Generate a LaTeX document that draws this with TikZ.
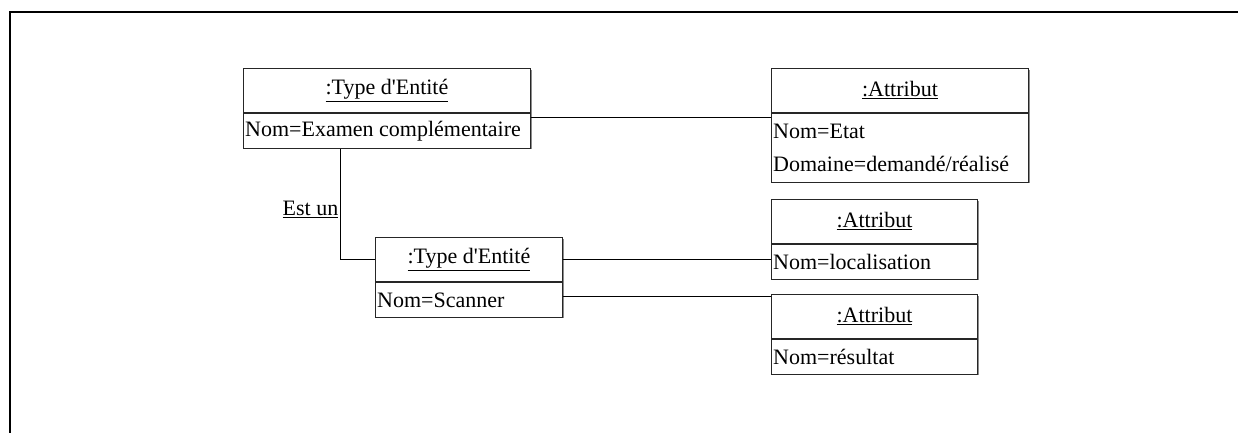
\documentclass[tikz,border=0pt]{standalone}
\usepackage{fontspec}
\setmainfont{Liberation Serif}[Ligatures=TeXOff]
\usetikzlibrary{calc,shadows}
\begin{document}
\begin{tikzpicture}[x=1pt,y=-1pt,
  part/.style={draw=black!85, fill=white, line width=0.9pt, rectangle, inner sep=0pt,
    anchor=north west, font=\fontsize{22}{24}\selectfont,
    general shadow={fill=black!45, shadow xshift=1.1pt, shadow yshift=-1.1pt}},
  row/.style={font=\fontsize{22}{24}\selectfont, anchor=west, inner sep=0pt},
  link/.style={draw=black, line width=0.9pt}]
\useasboundingbox (0,0) rectangle (1238,432);
% page frame
\draw[line width=2.2pt] (10,433) -- (10,12) -- (1239,12);

% Type d'Entite : Examen complementaire
\node[part, minimum width=287, minimum height=44] (Ahead) at (243,68) {\underline{:Type d'Entité}};
\node[part, minimum width=287, minimum height=35] (Abody) at (Ahead.south west) {};
\node[row] (Anom) at ($(Abody.west)+(2,0)$) {Nom=Examen complémentaire};

% Attribut : Etat
\node[part, minimum width=257, minimum height=44] (Bhead) at (771,68) {\underline{:Attribut}};
\node[part, minimum width=257, minimum height=69] (Bbody) at (Bhead.south west) {};
\node[row] (Bnom) at ($(Bbody.north west)+(2,18)$) {Nom=Etat};
\node[row] (Bdom) at ($(Bbody.north west)+(2,51)$) {Domaine=demandé/réalisé};

% Type d'Entite : Scanner
\node[part, minimum width=187, minimum height=44] (Chead) at (375,237) {\underline{:Type d'Entité}};
\node[part, minimum width=187, minimum height=35] (Cbody) at (Chead.south west) {};
\node[row] (Cnom) at ($(Cbody.west)+(2,0)$) {Nom=Scanner};

% Attribut : localisation
\node[part, minimum width=206, minimum height=44] (Dhead) at (771,199) {\underline{:Attribut}};
\node[part, minimum width=206, minimum height=35] (Dbody) at (Dhead.south west) {};
\node[row] (Dnom) at ($(Dbody.west)+(2,0)$) {Nom=localisation};

% Attribut : resultat
\node[part, minimum width=206, minimum height=44] (Ehead) at (771,294) {\underline{:Attribut}};
\node[part, minimum width=206, minimum height=35] (Ebody) at (Ehead.south west) {};
\node[row] (Enom) at ($(Ebody.west)+(2,0)$) {Nom=résultat};

% links
\draw[link] ([yshift=-5pt]Abody.north east) -- ([yshift=-5pt]Bbody.north west);
\draw[link] (Chead.east) -- (Chead.east -| Dbody.west);
\draw[link] (Cbody.north east |- Ehead.north west) ++(0,2) coordinate (ce) -- (ce -| Ehead.west);
\draw[link] ([xshift=-46.5pt]Abody.south) coordinate (gen) |- (Chead.west);
\node[row, anchor=east] (estun) at ($(gen |- 0,209)+(-2,0)$) {\underline{Est un}};
\end{tikzpicture}
\end{document}
